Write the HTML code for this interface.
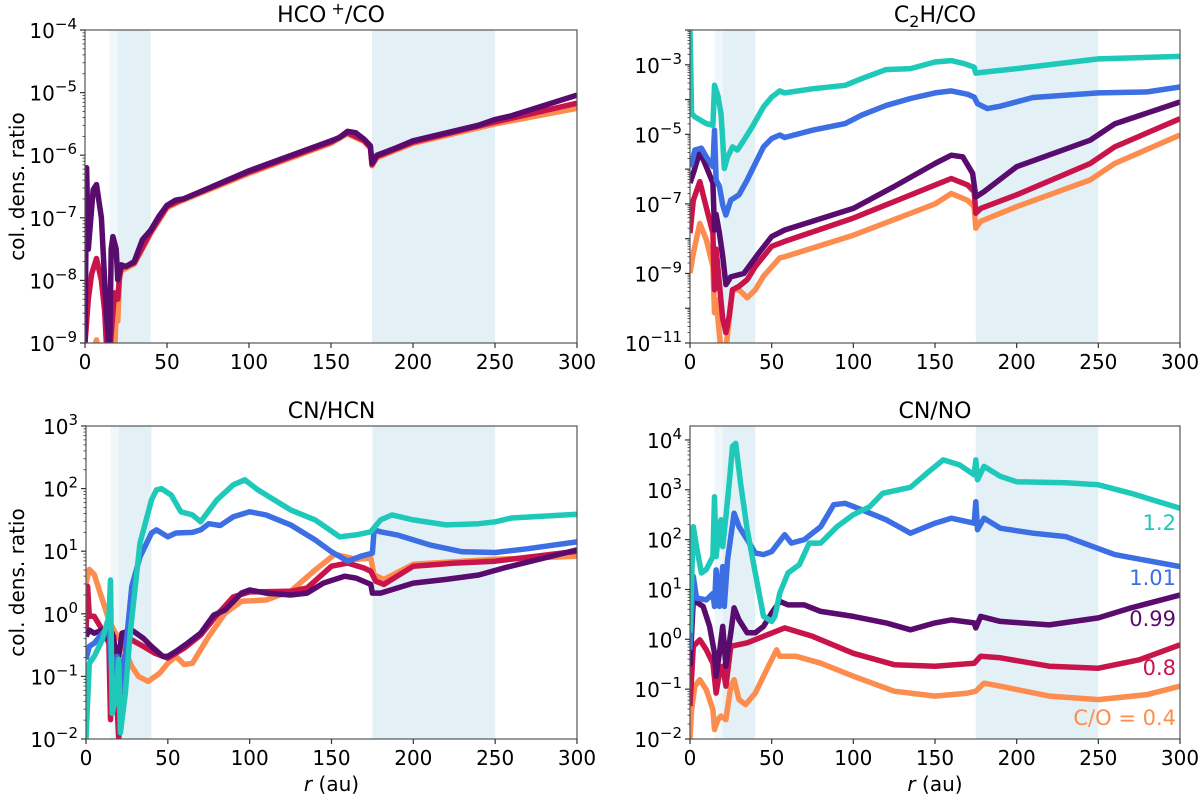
<!DOCTYPE html>
<html><head><meta charset="utf-8"><style>
html,body{margin:0;padding:0;background:#fff;}
svg{display:block;font-family:"DejaVu Sans","Liberation Sans",sans-serif;}
</style></head><body>
<svg id="fig" width="1200" height="795" viewBox="0 0 1200 795"></svg>
<script>
// ---- data (log10 of column density ratio) ----
const rHcoPurple=[0,1,2,5,7,10,13,15,16,17,19,20,22,25,30,35,40,45,50,55,57,60,100,150,155,160,165,170,174,175,178,190,200,240,250,260,300];
const hcoPurple=[-9,-6.2,-7.5,-6.55,-6.47,-7,-8.5,-9.2,-7.5,-7.3,-7.5,-7.99,-7.75,-7.78,-7.7,-7.35,-7.2,-6.98,-6.8,-6.72,-6.71,-6.7,-6.25,-5.77,-5.72,-5.62,-5.64,-5.74,-5.85,-6.13,-6.0,-5.88,-5.77,-5.52,-5.43,-5.37,-5.04];
const rHcoCrimson=[0,2,4,7,10,12,14,18,20,21,22,30,40,50,57,100,150,160,170,174,175,178,200,250,300];
const hcoCrimson=[-9,-8.3,-7.9,-7.65,-8.0,-8.5,-9.5,-8.2,-8.3,-7.95,-7.8,-7.72,-7.23,-6.82,-6.73,-6.27,-5.79,-5.64,-5.76,-5.87,-6.15,-6.02,-5.79,-5.47,-5.17];
const rHcoOrange=[0,4,7,10,12,18,19,20,21,22,30,40,50,57,100,150,160,170,174,175,178,200,250,300];
const hcoOrange=[-9.3,-9.2,-8.95,-9.3,-9.6,-9.2,-8.5,-8.65,-8.0,-7.85,-7.74,-7.25,-6.84,-6.75,-6.29,-5.81,-5.66,-5.78,-5.89,-6.17,-6.04,-5.81,-5.5,-5.25];

const rC2hTeal=[0,1,3,10,14,15,17,19,20,21,23,26,29,33,38,45,50,55,58,75,95,105,120,135,150,160,168,174,175,180,200,250,300];
const c2hTeal=[-2,-4.4,-4.5,-4.69,-4.74,-3.59,-3.88,-4.4,-5.17,-5.98,-5.65,-5.36,-5.45,-5.17,-4.79,-4.21,-3.93,-3.75,-3.81,-3.69,-3.59,-3.4,-3.14,-3.11,-2.92,-2.88,-2.97,-3.07,-3.24,-3.21,-3.11,-2.83,-2.76];
const rC2hBlue=[0,1,3,7,10,14,15,16,18,20,22,25,30,35,40,45,50,55,58,75,95,105,120,135,150,160,170,174,176,182,190,210,250,280,300];
const c2hBlue=[-5.93,-5.85,-5.45,-5.4,-5.65,-5.93,-4.88,-6.31,-6.5,-7.03,-7.32,-6.89,-6.74,-6.31,-5.84,-5.36,-5.12,-5.02,-5.09,-4.88,-4.69,-4.45,-4.17,-3.97,-3.81,-3.75,-3.85,-3.93,-4.12,-4.26,-4.19,-3.94,-3.81,-3.78,-3.64];
const rC2hPurple=[0,2,6,10,14,15,16,18,20,22,25,33,42,50,58,75,100,125,150,160,167,173,175,180,200,245,260,300];
const c2hPurple=[-6.4,-6.12,-5.5,-5.93,-6.4,-7.75,-7.3,-7.84,-8.5,-9.32,-9.1,-9.0,-8.42,-7.94,-7.75,-7.5,-7.13,-6.5,-5.84,-5.6,-5.65,-6.12,-6.8,-6.65,-5.93,-5.17,-4.7,-4.07];
const rC2hCrimson=[0,2,6,10,14,15,16,20,22,24,26,30,35,40,50,58,100,150,160,170,174,175,178,200,245,260,300];
const c2hCrimson=[-7.84,-6.9,-6.36,-7.1,-7.84,-9.47,-8.3,-10.3,-10.7,-10.23,-9.47,-9.37,-9.18,-8.8,-8.22,-8.08,-7.41,-6.46,-6.27,-6.46,-6.65,-7.27,-7.13,-6.74,-5.84,-5.36,-4.55];
const rC2hOrange=[0,2,6,10,14,15,16,19,22,24,26,30,35,40,45,55,58,100,150,160,170,174,175,178,200,245,260,300];
const c2hOrange=[-8.99,-8.42,-7.56,-8.03,-8.8,-10.13,-9.75,-11.2,-11.2,-10.3,-9.47,-9.47,-9.7,-9.47,-9.08,-8.55,-8.52,-7.9,-7.0,-6.7,-6.9,-7.08,-7.7,-7.5,-7.08,-6.31,-5.84,-5.02];

const rHcnTeal=[0,2,5,10,14,15,16,18,20,21,24,27,33,40,43,46,52,58,65,70,80,90,97,105,115,125,140,155,165,174,180,187,200,220,240,250,260,300];
const hcnTeal=[-2,-0.79,-0.68,-0.41,-0.04,0.54,-1.59,-1.37,-0.73,-1.9,-1.27,-0.31,1.13,1.82,1.98,2.0,1.9,1.63,1.58,1.47,1.82,2.06,2.14,1.98,1.82,1.66,1.5,1.23,1.26,1.31,1.5,1.58,1.5,1.42,1.44,1.47,1.53,1.59];
const rHcnBlue=[0,2,5,10,14,16,19,22,25,28,33,40,43,50,55,65,70,75,82,90,100,110,125,140,150,160,168,175,176,180,190,210,230,250,270,300];
const hcnBlue=[-0.73,-0.52,-0.47,-0.31,-0.2,-1.1,-0.68,-1.21,-0.36,0.44,0.91,1.29,1.34,1.23,1.29,1.3,1.34,1.44,1.41,1.55,1.63,1.58,1.42,1.18,0.99,0.84,0.92,0.97,1.34,1.31,1.26,1.1,0.99,0.98,1.04,1.15];
const rHcnPurple=[0,2,5,10,14,16,18,20,22,28,35,40,47,50,55,62,70,78,85,95,100,110,125,135,145,158,165,174,175,180,200,220,240,255,300];
const hcnPurple=[-0.36,-0.26,-0.31,-0.26,-0.41,-0.31,-0.57,-0.68,-0.31,-0.26,-0.39,-0.52,-0.68,-0.68,-0.6,-0.47,-0.31,-0.02,0.06,0.33,0.38,0.33,0.3,0.33,0.49,0.6,0.57,0.47,0.33,0.33,0.49,0.55,0.62,0.73,1.02];
const rHcnCrimson=[0,1,2,5,10,14,15,17,20,22,26,35,42,50,60,70,80,90,100,125,135,150,160,170,174,177,182,200,225,250,300];
const hcnCrimson=[-0.31,0.44,-0.04,-0.04,-0.26,-0.47,-1.69,-0.36,-2,-0.89,-0.39,-0.52,-0.63,-0.71,-0.55,-0.34,-0.02,0.27,0.35,0.36,0.41,0.76,0.81,0.73,0.68,0.52,0.47,0.76,0.81,0.84,1.0];
const rHcnOrange=[0,2,5,10,14,18,22,28,32,38,45,50,55,60,65,75,85,95,110,125,140,152,165,174,176,182,200,250,300];
const hcnOrange=[0.49,0.71,0.63,0.22,-0.1,-0.31,-0.47,-0.84,-1.0,-1.08,-0.95,-0.79,-0.68,-0.81,-0.79,-0.36,0.01,0.2,0.22,0.36,0.7,0.95,0.87,0.89,0.62,0.55,0.79,0.87,0.92];

const rNoTeal=[0,2,4,7,10,14,15,16,18,19,20,22,24,26,28,31,35,40,45,50,52,55,60,67,73,80,90,100,110,118,125,135,145,155,165,174,175,176,180,190,200,230,250,270,300];
const noTeal=[0.13,2.26,1.86,1.33,1.4,1.66,2.86,1.66,2.26,2.4,1.86,2.46,3.13,3.87,3.93,3.13,2.2,1.33,0.46,0.36,0.46,0.93,1.33,1.5,1.93,1.93,2.26,2.5,2.66,2.93,2.98,3.05,3.33,3.6,3.5,3.3,3.6,3.2,3.47,3.27,3.16,3.14,3.1,2.93,2.63];
const rNoBlue=[0,2,4,10,14,15,16,18,20,21,23,27,30,35,40,45,50,58,62,70,80,88,95,105,120,135,150,160,174,175,176,180,190,210,230,260,300];
const noBlue=[-0.21,1.26,0.83,0.79,0.92,0.66,1.39,0.66,1.46,0.66,1.6,2.53,2.26,2.0,1.73,1.7,1.76,2.1,1.93,2.0,2.26,2.7,2.73,2.6,2.4,2.13,2.33,2.43,2.33,2.76,2.2,2.43,2.23,2.13,2.06,1.7,1.46];
const rNoPurple=[0,2,8,12,15,16,18,20,22,25,27,30,35,40,45,50,55,60,70,80,100,120,135,150,160,174,175,178,190,220,250,270,300];
const noPurple=[-0.54,0.79,0.66,0.26,-0.28,-0.74,-0.28,0.26,-0.54,0.13,0.63,0.39,0.13,0.13,0.26,0.53,0.76,0.69,0.69,0.56,0.46,0.33,0.19,0.33,0.39,0.33,0.23,0.46,0.36,0.29,0.43,0.63,0.89];
const rNoCrimson=[0,2,6,10,14,16,18,20,22,25,35,45,58,75,100,125,150,174,178,190,220,250,275,300];
const noCrimson=[-1.34,-0.14,-0.01,-0.21,-0.48,-1.08,-0.68,-0.54,-0.94,-0.14,-0.07,0.06,0.23,0.06,-0.28,-0.51,-0.54,-0.48,-0.34,-0.37,-0.54,-0.58,-0.41,-0.11];
const rNoOrange=[0,1,3,6,10,14,15,17,19,22,25,27,30,34,40,48,53,55,65,80,100,125,150,170,175,180,190,220,250,280,300];
const noOrange=[-2,-1.41,-0.94,-0.81,-1.01,-1.41,-1.81,-1.61,-1.54,-1.61,-0.94,-0.81,-1.21,-1.31,-1.08,-0.54,-0.21,-0.34,-0.34,-0.48,-0.74,-1.04,-1.14,-1.08,-1.04,-0.88,-0.94,-1.14,-1.21,-1.11,-0.94];

const xTicks=[0,50,100,150,200,250,300];
const bands=[[15,20,'#eff7fa'],[20,40,'#e3f1f7'],[175,250,'#e3f1f7']];
const colors={teal:'#1fc9b9',blue:'#3b6fe3',purple:'#590b6e',crimson:'#c9144b',orange:'#fc8d4e'};

const NS='http://www.w3.org/2000/svg';
const svg=document.getElementById('fig');
function el(tag,attrs,parent){const e=document.createElementNS(NS,tag);for(const k in attrs)e.setAttribute(k,attrs[k]);(parent||svg).appendChild(e);return e;}

const panels=[
 {id:'hco',title:['HCO','+','/CO'],x0:85,x1:577,y0:30,y1:343,lmin:-9,lmax:-4,ticks:[-9,-8,-7,-6,-5,-4],ylabel:true,xlabel:false,
  series:[['orange',rHcoOrange,hcoOrange],['crimson',rHcoCrimson,hcoCrimson],['purple',rHcoPurple,hcoPurple]]},
 {id:'c2h',title:['C','2','H/CO'],x0:690,x1:1180,y0:30,y1:343,lmin:-11,lmax:-2,ticks:[-11,-9,-7,-5,-3],ylabel:false,xlabel:false,
  series:[['orange',rC2hOrange,c2hOrange],['crimson',rC2hCrimson,c2hCrimson],['purple',rC2hPurple,c2hPurple],['blue',rC2hBlue,c2hBlue],['teal',rC2hTeal,c2hTeal]]},
 {id:'hcn',title:['CN/HCN'],x0:86,x1:577,y0:426,y1:739,lmin:-2,lmax:3,ticks:[-2,-1,0,1,2,3],ylabel:true,xlabel:true,
  series:[['orange',rHcnOrange,hcnOrange],['crimson',rHcnCrimson,hcnCrimson],['purple',rHcnPurple,hcnPurple],['blue',rHcnBlue,hcnBlue],['teal',rHcnTeal,hcnTeal]]},
 {id:'no',title:['CN/NO'],x0:690,x1:1180,y0:426,y1:739,lmin:-2,lmax:4.28,ticks:[-2,-1,0,1,2,3,4],ylabel:false,xlabel:true,
  series:[['orange',rNoOrange,noOrange],['crimson',rNoCrimson,noCrimson],['purple',rNoPurple,noPurple],['blue',rNoBlue,noBlue],['teal',rNoTeal,noTeal]]}
];

panels.forEach(p=>{
  const g=el('g',{});
  
  
  const sx=r=>p.x0+(r/300)*(p.x1-p.x0);
  const sy=v=>p.y1-(v-p.lmin)/(p.lmax-p.lmin)*(p.y1-p.y0);
  bands.forEach(b=>{
    const rc=el('rect',{x:sx(b[0]),y:p.y0,width:sx(b[1])-sx(b[0]),height:p.y1-p.y0,fill:b[2]},g);
    
    
  });
  const cp=el('clipPath',{id:'clip-'+p.id},g);
  el('rect',{x:p.x0,y:p.y0,width:p.x1-p.x0,height:p.y1-p.y0},cp);
  p.series.forEach(s=>{
    const [c,rs,vs]=s;
    const d=rs.map((r,i)=>(i?'L':'M')+sx(r).toFixed(1)+','+sy(vs[i]).toFixed(1)).join('');
    const path=el('path',{d:d,fill:'none',stroke:colors[c],'stroke-width':5.5,'stroke-linejoin':'round','stroke-linecap':'butt','clip-path':'url(#clip-'+p.id+')'},g);
    
    
  });
  const fr=el('rect',{x:p.x0,y:p.y0,width:p.x1-p.x0,height:p.y1-p.y0,fill:'none',stroke:'#555','stroke-width':1.2},g);
  
  
  xTicks.forEach(t=>{
    el('line',{x1:sx(t),x2:sx(t),y1:p.y1,y2:p.y1+5,stroke:'#333','stroke-width':1.2},g);
    const tx=el('text',{x:sx(t),y:p.y1+26,'font-size':20,'text-anchor':'middle',fill:'#000'},g);
    tx.textContent=t;
    
    
  });
  for(let d=Math.floor(p.lmin);d<=Math.ceil(p.lmax);d++){
    for(let m=1;m<10;m++){
      const v=d+Math.log10(m);
      if(v<p.lmin-1e-6||v>p.lmax+1e-6)continue;
      if(m===1){
        el('line',{x1:p.x0-5,x2:p.x0,y1:sy(v),y2:sy(v),stroke:'#333','stroke-width':1.2},g);
      } else {
        el('line',{x1:p.x0-2.5,x2:p.x0,y1:sy(v),y2:sy(v),stroke:'#333','stroke-width':0.8},g);
      }
    }
  }
  p.ticks.forEach(t=>{
    const tx=el('text',{x:p.x0-8,y:sy(t)+8,'font-size':20,'text-anchor':'end',fill:'#000'},g);
    
    
    const a=el('tspan',{},tx);a.textContent='10';
    const b=el('tspan',{dy:-9,'font-size':15},tx);b.textContent=(t<0?'\u2212'+(-t):String(t));
  });
  const tt=el('text',{x:(p.x0+p.x1)/2,y:p.y0-8,'font-size':22,'text-anchor':'middle',fill:'#000'},g);
  
  
  if(p.title.length===1){tt.textContent=p.title[0];}
  else if(p.id==='hco'){
    const a=el('tspan',{},tt);a.textContent=p.title[0];
    const b=el('tspan',{dy:-8,'font-size':16},tt);b.textContent=' '+p.title[1];
    const c=el('tspan',{dy:8},tt);c.textContent=p.title[2];
  } else {
    const a=el('tspan',{},tt);a.textContent=p.title[0];
    const b=el('tspan',{dy:5,'font-size':16},tt);b.textContent=p.title[1];
    const c=el('tspan',{dy:-5},tt);c.textContent=p.title[2];
  }
  if(p.ylabel){
    const cy=(p.y0+p.y1)/2;
    const yl=el('text',{x:0,y:0,'font-size':20,'text-anchor':'middle',transform:'translate(24,'+cy+') rotate(-90)',fill:'#000'},g);
    yl.textContent='col. dens. ratio';
    
    
  }
  if(p.xlabel){
    const xl=el('text',{x:(p.x0+p.x1)/2,y:p.y1+52,'font-size':20,'text-anchor':'middle',fill:'#000'},g);
    
    
    const a=el('tspan',{'font-style':'italic'},xl);a.textContent='r';
    const b=el('tspan',{},xl);b.textContent=' (au)';
  }
});

const labelTexts=['1.2','1.01','0.99','0.8','C/O = 0.4'];
const labelColors=['teal','blue','purple','crimson','orange'];
const labelY=[530,585,626,675,725];
labelTexts.forEach((t,i)=>{
  const tx=el('text',{x:1176,y:labelY[i],'font-size':21,'text-anchor':'end',fill:colors[labelColors[i]]});
  tx.textContent=t;
  
  
});
</script>
</body></html>
